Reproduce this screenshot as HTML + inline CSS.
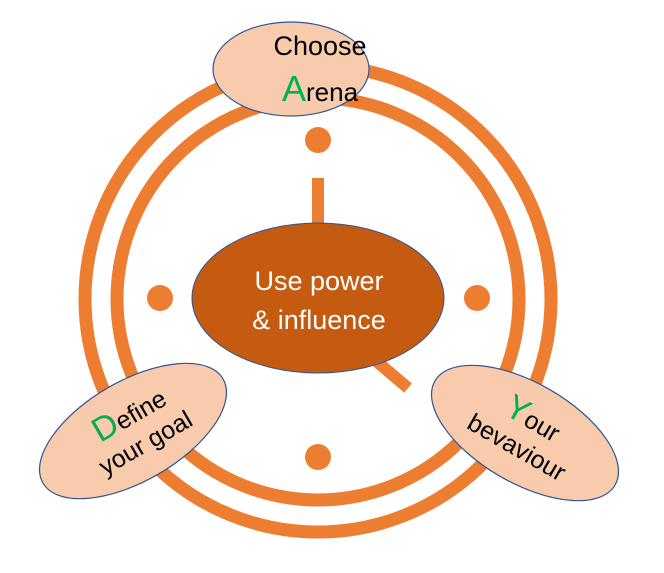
<!DOCTYPE html>
<html><head><style>body{margin:0;background:#fff}</style></head><body>
<svg width="664" height="568" xmlns="http://www.w3.org/2000/svg" font-family="Liberation Sans, sans-serif">
<circle cx="318" cy="299" r="233" fill="none" stroke="#ED7D31" stroke-width="13"/>
<circle cx="318" cy="299" r="201" fill="none" stroke="#ED7D31" stroke-width="13"/>
<circle cx="318" cy="140" r="13" fill="#ED7D31"/>
<circle cx="160" cy="298" r="13" fill="#ED7D31"/>
<circle cx="477" cy="298" r="13" fill="#ED7D31"/>
<circle cx="318" cy="457" r="13" fill="#ED7D31"/>
<rect x="312" y="178" width="12" height="50" fill="#ED7D31"/>
<line x1="375" y1="360" x2="408" y2="388" stroke="#ED7D31" stroke-width="12"/>
<ellipse cx="318" cy="298" rx="126" ry="75" fill="#C55A11" stroke="#2F5597" stroke-width="1"/>
<text x="319" y="290" font-size="27" fill="#fff" text-anchor="middle">Use power</text>
<text x="319" y="329" font-size="27" fill="#fff" text-anchor="middle">&amp; influence</text>
<ellipse cx="291" cy="69" rx="78" ry="47" fill="#F8CBAD" stroke="#2F5597" stroke-width="1.2"/>
<text x="320" y="55" font-size="27" text-anchor="middle">Choose</text>
<text x="320" y="101" font-size="26" text-anchor="middle"><tspan fill="#00B050" font-size="36">A</tspan>rena</text>
<g transform="translate(133,431) rotate(-30)">
<ellipse cx="0" cy="0" rx="104" ry="50" fill="#F8CBAD" stroke="#2F5597" stroke-width="1.2"/>
<text x="5" y="-6" font-size="25" text-anchor="middle"><tspan fill="#00B050" font-size="34">D</tspan>efine</text>
<text x="5" y="25" font-size="25" text-anchor="middle">your goal</text>
</g>
<g transform="translate(525,433) rotate(30)">
<ellipse cx="0" cy="0" rx="104" ry="50" fill="#F8CBAD" stroke="#2F5597" stroke-width="1.2"/>
<text x="0" y="-6" font-size="25" text-anchor="middle"><tspan fill="#00B050" font-size="34">Y</tspan>our</text>
<text x="0" y="25" font-size="25" text-anchor="middle">bevaviour</text>
</g>
</svg>
</body></html>
